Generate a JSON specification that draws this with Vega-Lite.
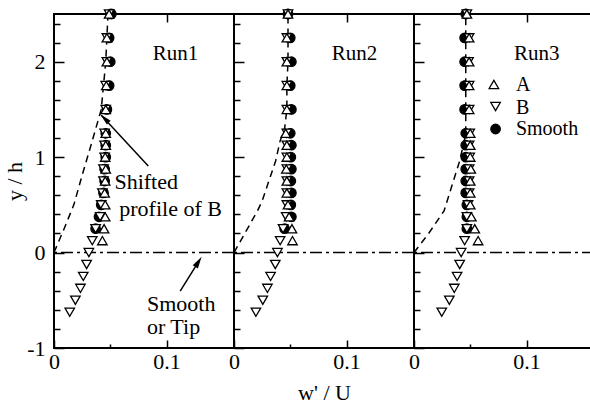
{
  "$schema": "https://vega.github.io/schema/vega-lite/v6.json",
  "background": "white",
  "padding": {"left": 2, "top": 5, "right": 0, "bottom": 0},
  "spacing": 0,
  "bounds": "flush",
  "config": {
    "view": {"stroke": "black", "strokeWidth": 2},
    "concat": {"spacing": 0},
    "font": "Liberation Serif, DejaVu Serif, Noto Serif, serif",
    "axis": {"domain": false, "grid": false, "tickColor": "black", "tickWidth": 1.5, "labelColor": "black", "labelFont": "Liberation Serif, DejaVu Serif, Noto Serif, serif", "labelFontSize": 22, "titleFont": "Liberation Serif, DejaVu Serif, Noto Serif, serif", "titleFontSize": 22, "titleFontWeight": "normal", "titleColor": "black", "labelFlush": false, "labelOverlap": false}
  },
  "datasets": {
    "one": [{"v": 0}],
    "pts": [
      {"run":"Run1","s":"Smooth","y":0.25,"x":0.037},{"run":"Run1","s":"Smooth","y":0.375,"x":0.040},{"run":"Run1","s":"Smooth","y":0.5,"x":0.042},{"run":"Run1","s":"Smooth","y":0.625,"x":0.044},{"run":"Run1","s":"Smooth","y":0.75,"x":0.045},{"run":"Run1","s":"Smooth","y":0.875,"x":0.045},{"run":"Run1","s":"Smooth","y":1.0,"x":0.046},{"run":"Run1","s":"Smooth","y":1.125,"x":0.046},{"run":"Run1","s":"Smooth","y":1.25,"x":0.046},{"run":"Run1","s":"Smooth","y":1.5,"x":0.047},{"run":"Run1","s":"Smooth","y":1.75,"x":0.049},{"run":"Run1","s":"Smooth","y":2.0,"x":0.050},{"run":"Run1","s":"Smooth","y":2.25,"x":0.049},{"run":"Run1","s":"Smooth","y":2.5,"x":0.051},
      {"run":"Run1","s":"B","y":-0.625,"x":0.014},{"run":"Run1","s":"B","y":-0.5,"x":0.019},{"run":"Run1","s":"B","y":-0.375,"x":0.0235},{"run":"Run1","s":"B","y":-0.25,"x":0.026},{"run":"Run1","s":"B","y":-0.125,"x":0.029},{"run":"Run1","s":"B","y":0,"x":0.031},{"run":"Run1","s":"B","y":0.125,"x":0.034},{"run":"Run1","s":"B","y":0.25,"x":0.037},{"run":"Run1","s":"B","y":0.375,"x":0.041},{"run":"Run1","s":"B","y":0.5,"x":0.042},{"run":"Run1","s":"B","y":0.625,"x":0.043},{"run":"Run1","s":"B","y":0.75,"x":0.044},{"run":"Run1","s":"B","y":0.875,"x":0.044},{"run":"Run1","s":"B","y":1.0,"x":0.045},{"run":"Run1","s":"B","y":1.125,"x":0.045},{"run":"Run1","s":"B","y":1.25,"x":0.045},{"run":"Run1","s":"B","y":1.5,"x":0.046},{"run":"Run1","s":"B","y":1.75,"x":0.046},{"run":"Run1","s":"B","y":2.0,"x":0.047},{"run":"Run1","s":"B","y":2.25,"x":0.047},{"run":"Run1","s":"B","y":2.5,"x":0.049},
      {"run":"Run1","s":"A","y":0.125,"x":0.043},{"run":"Run1","s":"A","y":0.25,"x":0.0445},{"run":"Run1","s":"A","y":0.375,"x":0.0455},{"run":"Run1","s":"A","y":0.5,"x":0.0455},{"run":"Run1","s":"A","y":0.625,"x":0.045},{"run":"Run1","s":"A","y":0.75,"x":0.0455},{"run":"Run1","s":"A","y":0.875,"x":0.046},{"run":"Run1","s":"A","y":1.0,"x":0.0455},{"run":"Run1","s":"A","y":1.125,"x":0.046},{"run":"Run1","s":"A","y":1.25,"x":0.046},{"run":"Run1","s":"A","y":1.5,"x":0.046},{"run":"Run1","s":"A","y":1.75,"x":0.0465},{"run":"Run1","s":"A","y":2.0,"x":0.047},{"run":"Run1","s":"A","y":2.25,"x":0.047},{"run":"Run1","s":"A","y":2.5,"x":0.049},
      {"run":"Run2","s":"Smooth","y":0.25,"x":0.045},{"run":"Run2","s":"Smooth","y":0.375,"x":0.051},{"run":"Run2","s":"Smooth","y":0.5,"x":0.0505},{"run":"Run2","s":"Smooth","y":0.625,"x":0.051},{"run":"Run2","s":"Smooth","y":0.75,"x":0.0505},{"run":"Run2","s":"Smooth","y":0.875,"x":0.051},{"run":"Run2","s":"Smooth","y":1.0,"x":0.0505},{"run":"Run2","s":"Smooth","y":1.125,"x":0.051},{"run":"Run2","s":"Smooth","y":1.25,"x":0.050},{"run":"Run2","s":"Smooth","y":1.5,"x":0.051},{"run":"Run2","s":"Smooth","y":1.75,"x":0.050},{"run":"Run2","s":"Smooth","y":2.0,"x":0.051},{"run":"Run2","s":"Smooth","y":2.25,"x":0.050},{"run":"Run2","s":"Smooth","y":2.5,"x":0.048},
      {"run":"Run2","s":"B","y":-0.625,"x":0.0195},{"run":"Run2","s":"B","y":-0.5,"x":0.0256},{"run":"Run2","s":"B","y":-0.375,"x":0.0297},{"run":"Run2","s":"B","y":-0.25,"x":0.0325},{"run":"Run2","s":"B","y":-0.125,"x":0.0367},{"run":"Run2","s":"B","y":0,"x":0.0386},{"run":"Run2","s":"B","y":0.125,"x":0.041},{"run":"Run2","s":"B","y":0.25,"x":0.0436},{"run":"Run2","s":"B","y":0.375,"x":0.0464},{"run":"Run2","s":"B","y":0.5,"x":0.047},{"run":"Run2","s":"B","y":0.625,"x":0.047},{"run":"Run2","s":"B","y":0.75,"x":0.047},{"run":"Run2","s":"B","y":0.875,"x":0.047},{"run":"Run2","s":"B","y":1.0,"x":0.047},{"run":"Run2","s":"B","y":1.125,"x":0.047},{"run":"Run2","s":"B","y":1.25,"x":0.047},{"run":"Run2","s":"B","y":1.5,"x":0.047},{"run":"Run2","s":"B","y":1.75,"x":0.047},{"run":"Run2","s":"B","y":2.0,"x":0.047},{"run":"Run2","s":"B","y":2.25,"x":0.047},{"run":"Run2","s":"B","y":2.5,"x":0.048},
      {"run":"Run2","s":"A","y":0.125,"x":0.052},{"run":"Run2","s":"A","y":0.25,"x":0.0515},{"run":"Run2","s":"A","y":0.375,"x":0.049},{"run":"Run2","s":"A","y":0.5,"x":0.048},{"run":"Run2","s":"A","y":0.625,"x":0.047},{"run":"Run2","s":"A","y":0.75,"x":0.047},{"run":"Run2","s":"A","y":0.875,"x":0.0465},{"run":"Run2","s":"A","y":1.0,"x":0.047},{"run":"Run2","s":"A","y":1.125,"x":0.047},{"run":"Run2","s":"A","y":1.25,"x":0.046},{"run":"Run2","s":"A","y":1.5,"x":0.047},{"run":"Run2","s":"A","y":1.75,"x":0.047},{"run":"Run2","s":"A","y":2.0,"x":0.047},{"run":"Run2","s":"A","y":2.25,"x":0.047},{"run":"Run2","s":"A","y":2.5,"x":0.048},
      {"run":"Run3","s":"Smooth","y":0.25,"x":0.047},{"run":"Run3","s":"Smooth","y":0.375,"x":0.047},{"run":"Run3","s":"Smooth","y":0.5,"x":0.047},{"run":"Run3","s":"Smooth","y":0.625,"x":0.046},{"run":"Run3","s":"Smooth","y":0.75,"x":0.046},{"run":"Run3","s":"Smooth","y":0.875,"x":0.046},{"run":"Run3","s":"Smooth","y":1.0,"x":0.046},{"run":"Run3","s":"Smooth","y":1.125,"x":0.046},{"run":"Run3","s":"Smooth","y":1.25,"x":0.046},{"run":"Run3","s":"Smooth","y":1.5,"x":0.045},{"run":"Run3","s":"Smooth","y":1.75,"x":0.045},{"run":"Run3","s":"Smooth","y":2.0,"x":0.045},{"run":"Run3","s":"Smooth","y":2.25,"x":0.045},{"run":"Run3","s":"Smooth","y":2.5,"x":0.046},
      {"run":"Run3","s":"B","y":-0.625,"x":0.0247},{"run":"Run3","s":"B","y":-0.5,"x":0.0314},{"run":"Run3","s":"B","y":-0.375,"x":0.0358},{"run":"Run3","s":"B","y":-0.25,"x":0.0383},{"run":"Run3","s":"B","y":-0.125,"x":0.0406},{"run":"Run3","s":"B","y":0,"x":0.0419},{"run":"Run3","s":"B","y":0.125,"x":0.045},{"run":"Run3","s":"B","y":0.25,"x":0.047},{"run":"Run3","s":"B","y":0.375,"x":0.047},{"run":"Run3","s":"B","y":0.5,"x":0.048},{"run":"Run3","s":"B","y":0.625,"x":0.049},{"run":"Run3","s":"B","y":0.75,"x":0.049},{"run":"Run3","s":"B","y":0.875,"x":0.049},{"run":"Run3","s":"B","y":1.0,"x":0.0495},{"run":"Run3","s":"B","y":1.125,"x":0.049},{"run":"Run3","s":"B","y":1.25,"x":0.0495},{"run":"Run3","s":"B","y":1.5,"x":0.049},{"run":"Run3","s":"B","y":1.75,"x":0.049},{"run":"Run3","s":"B","y":2.0,"x":0.0485},{"run":"Run3","s":"B","y":2.25,"x":0.049},{"run":"Run3","s":"B","y":2.5,"x":0.047},
      {"run":"Run3","s":"A","y":0.125,"x":0.057},{"run":"Run3","s":"A","y":0.25,"x":0.054},{"run":"Run3","s":"A","y":0.375,"x":0.051},{"run":"Run3","s":"A","y":0.5,"x":0.050},{"run":"Run3","s":"A","y":0.625,"x":0.050},{"run":"Run3","s":"A","y":0.75,"x":0.050},{"run":"Run3","s":"A","y":0.875,"x":0.0505},{"run":"Run3","s":"A","y":1.0,"x":0.050},{"run":"Run3","s":"A","y":1.125,"x":0.050},{"run":"Run3","s":"A","y":1.25,"x":0.050},{"run":"Run3","s":"A","y":1.5,"x":0.049},{"run":"Run3","s":"A","y":1.75,"x":0.049},{"run":"Run3","s":"A","y":2.0,"x":0.049},{"run":"Run3","s":"A","y":2.25,"x":0.049},{"run":"Run3","s":"A","y":2.5,"x":0.047}
    ],
    "prof": [
      {"run":"Run1","x":0,"y":0},{"run":"Run1","x":0.009,"y":0.25},{"run":"Run1","x":0.0176,"y":0.5},{"run":"Run1","x":0.026,"y":0.85},{"run":"Run1","x":0.033,"y":1.13},{"run":"Run1","x":0.042,"y":1.5},{"run":"Run1","x":0.044,"y":1.75},{"run":"Run1","x":0.046,"y":2.0},{"run":"Run1","x":0.047,"y":2.25},{"run":"Run1","x":0.048,"y":2.5},
      {"run":"Run2","x":0,"y":0},{"run":"Run2","x":0.021,"y":0.44},{"run":"Run2","x":0.025,"y":0.54},{"run":"Run2","x":0.037,"y":0.96},{"run":"Run2","x":0.041,"y":1.17},{"run":"Run2","x":0.045,"y":1.3},{"run":"Run2","x":0.047,"y":1.5},{"run":"Run2","x":0.047,"y":1.75},{"run":"Run2","x":0.048,"y":2.0},{"run":"Run2","x":0.048,"y":2.25},{"run":"Run2","x":0.048,"y":2.5},
      {"run":"Run3","x":0,"y":0},{"run":"Run3","x":0.013,"y":0.2},{"run":"Run3","x":0.0267,"y":0.437},{"run":"Run3","x":0.0406,"y":0.96},{"run":"Run3","x":0.0433,"y":1.1},{"run":"Run3","x":0.046,"y":1.24},{"run":"Run3","x":0.046,"y":1.5},{"run":"Run3","x":0.046,"y":1.75},{"run":"Run3","x":0.046,"y":2.0},{"run":"Run3","x":0.046,"y":2.25},{"run":"Run3","x":0.046,"y":2.5}
    ],
    "ann": [
      {"run":"Run1","k":"run","t":"Run1","x":0.108,"y":2.015},
      {"run":"Run2","k":"run","t":"Run2","x":0.107,"y":2.015},
      {"run":"Run3","k":"run","t":"Run3","x":0.109,"y":2.015},
      {"run":"Run1","k":"note","t":"Shifted","x":0.0537,"y":0.664},
      {"run":"Run1","k":"note","t":"profile of B","x":0.058,"y":0.384},
      {"run":"Run1","k":"note","t":"Smooth","x":0.0826,"y":-0.61},
      {"run":"Run1","k":"note","t":"or Tip","x":0.0826,"y":-0.855},
      {"run":"Run3","k":"leg","t":"A","x":0.0906,"y":1.755},
      {"run":"Run3","k":"leg","t":"B","x":0.0906,"y":1.515},
      {"run":"Run3","k":"leg","t":"Smooth","x":0.0906,"y":1.295}
    ],
    "leg": [
      {"s":"A","x":0.071,"y":1.762},
      {"s":"B","x":0.0725,"y":1.53},
      {"s":"Smooth","x":0.0725,"y":1.295}
    ]
  },
  "hconcat": [
    {
      "width": 180, "height": 334,
      "layer": [
        {"data": {"name": "one"}, "mark": {"type": "rule", "strokeDash": [12, 4, 3, 4], "strokeWidth": 1.5, "color": "black"},
         "encoding": {"y": {"datum": 0, "type": "quantitative", "scale": {"domain": [-1, 2.5]}, "axis": null}}},
        {"data": {"name": "prof"}, "transform": [{"filter": "datum.run === 'Run1'"}],
         "mark": {"type": "line", "strokeDash": [7, 5], "strokeWidth": 1.5, "color": "black"},
         "encoding": {
           "x": {"field": "x", "type": "quantitative", "scale": {"domain": [0, 0.15]}, "axis": {"orient": "bottom", "values": [0.05], "tickSize": -4, "labels": false, "title": null}},
           "y": {"field": "y", "type": "quantitative", "scale": {"domain": [-1, 2.5]}, "axis": {"orient": "left", "values": [-0.8, -0.6, -0.4, -0.2, 0.2, 0.4, 0.6, 0.8, 1.2, 1.4, 1.6, 1.8, 2.2, 2.4], "tickSize": -6, "labels": false, "title": null}},
           "order": {"field": "y"}}},
        {"data": {"name": "pts"}, "transform": [{"filter": "datum.run === 'Run1'"}],
         "mark": {"type": "point", "size": 90, "stroke": "black", "strokeWidth": 1.3, "opacity": 1},
         "encoding": {
           "x": {"field": "x", "type": "quantitative", "scale": {"domain": [0, 0.15]}, "axis": {"orient": "bottom", "values": [0, 0.1], "tickSize": -8, "labelExpr": "datum.value === 0 ? '0' : '0.1'", "labelPadding": 11, "title": null}},
           "y": {"field": "y", "type": "quantitative", "scale": {"domain": [-1, 2.5]}, "axis": {"orient": "left", "values": [-1, 0, 1, 2], "tickSize": -10, "labelExpr": "toString(datum.value)", "labelPadding": 19, "title": "y / h", "titlePadding": 0}},
           "shape": {"field": "s", "type": "nominal", "scale": {"domain": ["A", "B", "Smooth"], "range": ["triangle-up", "triangle-down", "circle"]}, "legend": null},
           "fill": {"field": "s", "type": "nominal", "scale": {"domain": ["A", "B", "Smooth"], "range": ["white", "white", "black"]}, "legend": null}}},
        {"data": {"name": "ann"}, "transform": [{"filter": "datum.run === 'Run1' && datum.k === 'run'"}],
         "mark": {"type": "text", "fontSize": 21, "align": "center", "baseline": "alphabetic", "color": "black"},
         "encoding": {"x": {"field": "x", "type": "quantitative", "axis": {"orient": "top", "values": [0.1], "tickSize": -8, "labels": false, "title": null}}, "y": {"field": "y", "type": "quantitative", "axis": null}, "text": {"field": "t"}}},
        {"data": {"name": "ann"}, "transform": [{"filter": "datum.run === 'Run1' && datum.k === 'note'"}],
         "mark": {"type": "text", "fontSize": 22, "align": "left", "baseline": "alphabetic", "color": "black"},
         "encoding": {"x": {"field": "x", "type": "quantitative", "axis": null}, "y": {"field": "y", "type": "quantitative", "axis": null}, "text": {"field": "t"}}},
        {"data": {"values": [{"x": 0.0838, "y": 0.908, "x2": 0.042, "y2": 1.44}]},
         "mark": {"type": "rule", "strokeWidth": 1.5, "color": "black"},
         "encoding": {"x": {"field": "x", "type": "quantitative", "axis": null}, "y": {"field": "y", "type": "quantitative", "axis": null}, "x2": {"field": "x2"}, "y2": {"field": "y2"}}},
        {"data": {"values": [{"x": 0.0449, "y": 1.406}]},
         "mark": {"type": "point", "shape": "M0,-1L0.45,1L-0.45,1Z", "size": 144, "angle": 315, "filled": true, "color": "black", "opacity": 1},
         "encoding": {"x": {"field": "x", "type": "quantitative", "axis": null}, "y": {"field": "y", "type": "quantitative", "axis": null}}},
        {"data": {"values": [{"x": 0.1217, "y": -0.224}]},
         "mark": {"type": "point", "shape": "M0,-1L0.15,-0.41L0.037,-0.41L0.037,1L-0.037,1L-0.037,-0.41L-0.15,-0.41Z", "size": 1640, "angle": 32, "filled": true, "color": "black", "opacity": 1, "strokeWidth": 0},
         "encoding": {"x": {"field": "x", "type": "quantitative", "axis": null}, "y": {"field": "y", "type": "quantitative", "axis": null}}}
      ],
      "resolve": {"axis": {"x": "independent", "y": "independent"}}
    },
    {
      "width": 180, "height": 334,
      "layer": [
        {"data": {"name": "one"}, "mark": {"type": "rule", "strokeDash": [12, 4, 3, 4], "strokeWidth": 1.5, "color": "black"},
         "encoding": {"y": {"datum": 0, "type": "quantitative", "scale": {"domain": [-1, 2.5]}, "axis": null}}},
        {"data": {"name": "prof"}, "transform": [{"filter": "datum.run === 'Run2'"}],
         "mark": {"type": "line", "strokeDash": [7, 5], "strokeWidth": 1.5, "color": "black"},
         "encoding": {
           "x": {"field": "x", "type": "quantitative", "scale": {"domain": [0, 0.15]}, "axis": {"orient": "bottom", "values": [0.05], "tickSize": -4, "labels": false, "title": null}},
           "y": {"field": "y", "type": "quantitative", "scale": {"domain": [-1, 2.5]}, "axis": {"orient": "left", "values": [-0.8, -0.6, -0.4, -0.2, 0.2, 0.4, 0.6, 0.8, 1.2, 1.4, 1.6, 1.8, 2.2, 2.4], "tickSize": -6, "labels": false, "title": null}},
           "order": {"field": "y"}}},
        {"data": {"name": "pts"}, "transform": [{"filter": "datum.run === 'Run2'"}],
         "mark": {"type": "point", "size": 90, "stroke": "black", "strokeWidth": 1.3, "opacity": 1},
         "encoding": {
           "x": {"field": "x", "type": "quantitative", "scale": {"domain": [0, 0.15]}, "axis": {"orient": "bottom", "values": [0, 0.1], "tickSize": -8, "labelExpr": "datum.value === 0 ? '0' : '0.1'", "labelPadding": 11, "title": "w' / U", "titlePadding": 10}},
           "y": {"field": "y", "type": "quantitative", "scale": {"domain": [-1, 2.5]}, "axis": {"orient": "left", "values": [-1, 0, 1, 2], "tickSize": -10, "labels": false, "title": null}},
           "shape": {"field": "s", "type": "nominal", "scale": {"domain": ["A", "B", "Smooth"], "range": ["triangle-up", "triangle-down", "circle"]}, "legend": null},
           "fill": {"field": "s", "type": "nominal", "scale": {"domain": ["A", "B", "Smooth"], "range": ["white", "white", "black"]}, "legend": null}}},
        {"data": {"name": "ann"}, "transform": [{"filter": "datum.run === 'Run2' && datum.k === 'run'"}],
         "mark": {"type": "text", "fontSize": 21, "align": "center", "baseline": "alphabetic", "color": "black"},
         "encoding": {"x": {"field": "x", "type": "quantitative", "axis": {"orient": "top", "values": [0.1], "tickSize": -8, "labels": false, "title": null}}, "y": {"field": "y", "type": "quantitative", "axis": null}, "text": {"field": "t"}}}
      ],
      "resolve": {"axis": {"x": "independent", "y": "independent"}}
    },
    {
      "width": 180, "height": 334,
      "layer": [
        {"data": {"name": "one"}, "mark": {"type": "rule", "strokeDash": [12, 4, 3, 4], "strokeWidth": 1.5, "color": "black"},
         "encoding": {"y": {"datum": 0, "type": "quantitative", "scale": {"domain": [-1, 2.5]}, "axis": null}}},
        {"data": {"name": "prof"}, "transform": [{"filter": "datum.run === 'Run3'"}],
         "mark": {"type": "line", "strokeDash": [7, 5], "strokeWidth": 1.5, "color": "black"},
         "encoding": {
           "x": {"field": "x", "type": "quantitative", "scale": {"domain": [0, 0.15]}, "axis": {"orient": "bottom", "values": [0.05], "tickSize": -4, "labels": false, "title": null}},
           "y": {"field": "y", "type": "quantitative", "scale": {"domain": [-1, 2.5]}, "axis": {"orient": "left", "values": [-0.8, -0.6, -0.4, -0.2, 0.2, 0.4, 0.6, 0.8, 1.2, 1.4, 1.6, 1.8, 2.2, 2.4], "tickSize": -6, "labels": false, "title": null}},
           "order": {"field": "y"}}},
        {"data": {"name": "pts"}, "transform": [{"filter": "datum.run === 'Run3'"}],
         "mark": {"type": "point", "size": 90, "stroke": "black", "strokeWidth": 1.3, "opacity": 1},
         "encoding": {
           "x": {"field": "x", "type": "quantitative", "scale": {"domain": [0, 0.15]}, "axis": {"orient": "bottom", "values": [0, 0.1], "tickSize": -8, "labelExpr": "datum.value === 0 ? '0' : '0.1'", "labelPadding": 11, "title": null}},
           "y": {"field": "y", "type": "quantitative", "scale": {"domain": [-1, 2.5]}, "axis": {"orient": "left", "values": [-1, 0, 1, 2], "tickSize": -10, "labels": false, "title": null}},
           "shape": {"field": "s", "type": "nominal", "scale": {"domain": ["A", "B", "Smooth"], "range": ["triangle-up", "triangle-down", "circle"]}, "legend": null},
           "fill": {"field": "s", "type": "nominal", "scale": {"domain": ["A", "B", "Smooth"], "range": ["white", "white", "black"]}, "legend": null}}},
        {"data": {"name": "leg"},
         "mark": {"type": "point", "size": 90, "stroke": "black", "strokeWidth": 1.3, "opacity": 1},
         "encoding": {
           "x": {"field": "x", "type": "quantitative", "axis": null},
           "y": {"field": "y", "type": "quantitative", "axis": null},
           "shape": {"field": "s", "type": "nominal", "scale": {"domain": ["A", "B", "Smooth"], "range": ["triangle-up", "triangle-down", "circle"]}, "legend": null},
           "fill": {"field": "s", "type": "nominal", "scale": {"domain": ["A", "B", "Smooth"], "range": ["white", "white", "black"]}, "legend": null}}},
        {"data": {"name": "ann"}, "transform": [{"filter": "datum.run === 'Run3' && datum.k === 'run'"}],
         "mark": {"type": "text", "fontSize": 21, "align": "center", "baseline": "alphabetic", "color": "black"},
         "encoding": {"x": {"field": "x", "type": "quantitative", "axis": {"orient": "top", "values": [0.1], "tickSize": -8, "labels": false, "title": null}}, "y": {"field": "y", "type": "quantitative", "axis": null}, "text": {"field": "t"}}},
        {"data": {"name": "ann"}, "transform": [{"filter": "datum.run === 'Run3' && datum.k === 'leg'"}],
         "mark": {"type": "text", "fontSize": 20, "align": "left", "baseline": "middle", "color": "black"},
         "encoding": {"x": {"field": "x", "type": "quantitative", "axis": null}, "y": {"field": "y", "type": "quantitative", "axis": null}, "text": {"field": "t"}}}
      ],
      "resolve": {"axis": {"x": "independent", "y": "independent"}}
    }
  ]
}
